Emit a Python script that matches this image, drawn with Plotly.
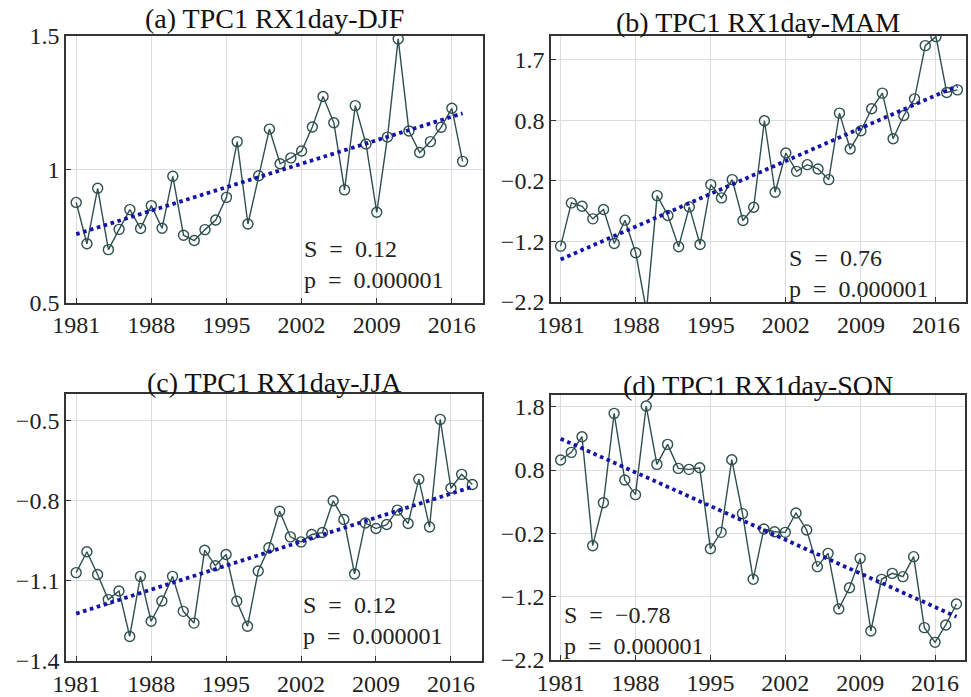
import plotly.graph_objects as go

# ---------------- data ----------------
years_a = list(range(1981, 2018))
years_bcd = list(range(1981, 2019))

djf = [0.876, 0.721, 0.929, 0.699, 0.775, 0.849, 0.778, 0.864, 0.779, 0.974,
       0.753, 0.733, 0.774, 0.810, 0.895, 1.104, 0.795, 0.976, 1.151, 1.021,
       1.043, 1.069, 1.159, 1.273, 1.175, 0.923, 1.239, 1.095, 0.839, 1.121,
       1.489, 1.144, 1.063, 1.104, 1.158, 1.229, 1.030]

mam = [-1.277, -0.563, -0.618, -0.826, -0.672, -1.233, -0.848, -1.387, -2.35, -0.442,
       -0.771, -1.288, -0.629, -1.250, -0.260, -0.480, -0.178, -0.854, -0.634, 0.795,
       -0.387, 0.262, -0.041, 0.069, -0.002, -0.178, 0.921, 0.327, 0.630, 0.992,
       1.251, 0.498, 0.882, 1.157, 2.036, 2.185, 1.262, 1.305]

jja = [-1.069, -0.991, -1.076, -1.170, -1.138, -1.308, -1.083, -1.251, -1.175, -1.083,
       -1.214, -1.258, -0.985, -1.043, -1.001, -1.176, -1.270, -1.063, -0.976, -0.839,
       -0.935, -0.954, -0.926, -0.919, -0.800, -0.870, -1.074, -0.883, -0.904, -0.889,
       -0.835, -0.885, -0.719, -0.898, -0.495, -0.753, -0.701, -0.739]

son = [0.958, 1.079, 1.326, -0.395, 0.284, 1.695, 0.642, 0.411, 1.811, 0.889,
       1.205, 0.826, 0.811, 0.837, -0.442, -0.184, 0.963, 0.111, -0.926, -0.132,
       -0.174, -0.184, 0.121, -0.147, -0.726, -0.516, -1.395, -1.058, -0.595, -1.742,
       -0.926, -0.832, -0.884, -0.568, -1.689, -1.921, -1.647, -1.316]

# trend line end values (first year, last year)
trend_a = [0.757, 1.210]
trend_b = [-1.497, 1.371]
trend_c = [-1.2225, -0.7475]
trend_d = [1.295, -1.516]

titles = ["(a) TPC1 RX1day-DJF", "(b) TPC1 RX1day-MAM",
          "(c) TPC1 RX1day-JJA", "(d) TPC1 RX1day-SON"]
stats_s = ["0.12", "0.76", "0.12", "\u22120.78"]
stats_p = ["0.000001"] * 4

x_ticks = [1981, 1988, 1995, 2002, 2009, 2016]
y_ticks_a = [0.5, 1.0, 1.5]
y_text_a = ["0.5", "1", "1.5"]
y_ticks_b = [-2.2, -1.2, -0.2, 0.8, 1.8]
y_text_b = ["\u22122.2", "\u22121.2", "\u22120.2", "0.8", "1.7"]
y_ticks_c = [-1.4, -1.1, -0.8, -0.5]
y_text_c = ["\u22121.4", "\u22121.1", "\u22120.8", "\u22120.5"]
y_ticks_d = [-2.2, -1.2, -0.2, 0.8, 1.8]
y_text_d = ["\u22122.2", "\u22121.2", "\u22120.2", "0.8", "1.8"]

# ---------------- figure ----------------
W, H = 971, 697
FONT = "Liberation Serif, Times New Roman, DejaVu Serif, serif"
LINE_C = "#2f4f4f"
TREND_C = "#1414a8"

fig = go.Figure()

panels = [
    dict(x=years_a, y=djf, tr=trend_a, xa="x", ya="y"),
    dict(x=years_bcd, y=mam, tr=trend_b, xa="x2", ya="y2"),
    dict(x=years_bcd, y=jja, tr=trend_c, xa="x3", ya="y3"),
    dict(x=years_bcd, y=son, tr=trend_d, xa="x4", ya="y4"),
]

for p in panels:
    fig.add_trace(go.Scatter(
        x=p["x"], y=p["y"], xaxis=p["xa"], yaxis=p["ya"], mode="lines+markers",
        line=dict(color=LINE_C, width=1.4),
        marker=dict(symbol="circle-open", size=10, color=LINE_C, line=dict(width=1.4)),
        showlegend=False, hoverinfo="skip"))
    fig.add_trace(go.Scatter(
        x=[p["x"][0], p["x"][-1]], y=p["tr"], xaxis=p["xa"], yaxis=p["ya"], mode="lines",
        line=dict(color=TREND_C, width=3.8, dash="3.6px,3.6px"),
        showlegend=False, hoverinfo="skip"))


def px_dom(a, b, total, flip=False):
    if flip:
        return [1 - b / total, 1 - a / total]
    return [a / total, b / total]


COMMON = dict(ticks="inside", ticklen=5, tickwidth=1, tickcolor="#333",
              showgrid=True, gridcolor="#dcdcdc", gridwidth=1, zeroline=False,
              showline=True, linecolor="#333", linewidth=1.6, mirror=True,
              automargin=False,
              tickfont=dict(family=FONT, size=24, color="#222"))


def xax(dom, rng, anchor):
    return dict(domain=dom, range=rng, tickvals=x_ticks, ticktext=[str(t) for t in x_ticks],
                anchor=anchor, **COMMON)


def yax(dom, rng, tv, tt, anchor):
    return dict(domain=dom, range=rng, tickvals=tv, ticktext=tt, anchor=anchor, **COMMON)


fig.update_layout(
    template="none",
    width=W, height=H, margin=dict(l=0, r=0, t=0, b=0, pad=0, autoexpand=False),
    paper_bgcolor="white", plot_bgcolor="white",
    font=dict(family=FONT, color="#222"),
    xaxis=xax(px_dom(66, 483, W), [1980.05, 2018.9], "y"),
    yaxis=yax(px_dom(36, 302.7, H, True), [0.5, 1.5], y_ticks_a, y_text_a, "x"),
    xaxis2=xax(px_dom(551, 966, W), [1980.1, 2018.8], "y2"),
    yaxis2=yax(px_dom(35.7, 302, H, True), [-2.2, 2.2], y_ticks_b, y_text_b, "x2"),
    xaxis3=xax(px_dom(66, 482, W), [1980.05, 2018.9], "y3"),
    yaxis3=yax(px_dom(394, 661, H, True), [-1.4, -0.4], y_ticks_c, y_text_c, "x3"),
    xaxis4=xax(px_dom(551, 965, W), [1980.1, 2018.8], "y4"),
    yaxis4=yax(px_dom(395, 660, H, True), [-2.2, 1.985], y_ticks_d, y_text_d, "x4"),
)

# titles (paper coords)
title_pos = [(274, 19), (758, 22), (274, 382), (758, 385)]
for t, (cx, cy) in zip(titles, title_pos):
    fig.add_annotation(text=t, xref="paper", yref="paper", x=cx / W, y=1 - cy / H,
                       xanchor="center", yanchor="middle", showarrow=False,
                       font=dict(family=FONT, size=28, color="#111"))

# statistics text (data coords)
stat_pos = [
    ("x", "y", 2002.0, 0.643),
    ("x2", "y2", 2002.1, -1.733),
    ("x3", "y3", 2002.0, -1.248),
    ("x4", "y4", 1981.1, -1.736),
]
SP = "\u2002"
for (xr, yr, xx, yy), s, p in zip(stat_pos, stats_s, stats_p):
    txt = f"S{SP}={SP}{s}<br>p{SP}={SP}{p}"
    fig.add_annotation(text=txt, xref=xr, yref=yr, x=xx, y=yy, xanchor="left", yanchor="middle",
                       align="left", showarrow=False,
                       font=dict(family=FONT, size=24, color="#222"))

fig.write_html("out.html")
